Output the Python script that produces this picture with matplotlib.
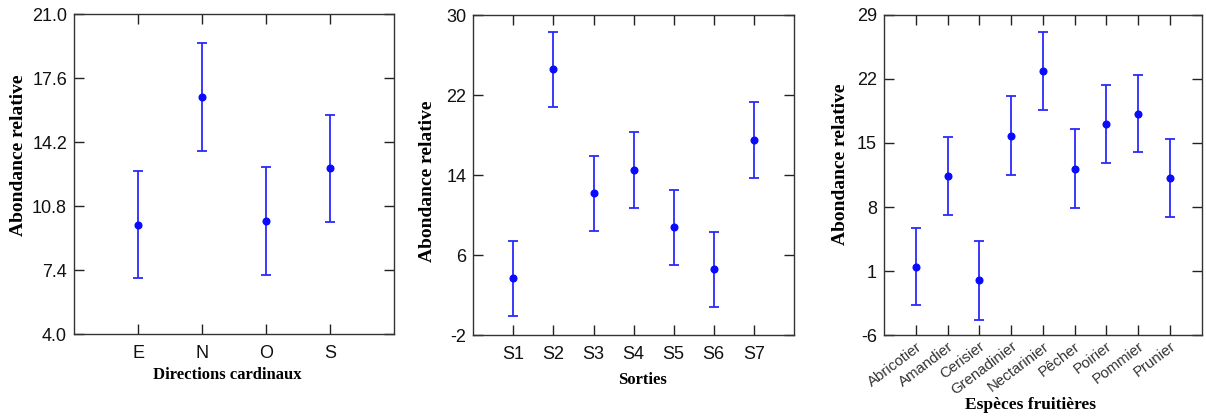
import numpy as np
import matplotlib.pyplot as plt

directions = ["E", "N", "O", "S"]
dir_mean = [9.8, 16.6, 10.0, 12.8]
dir_err = [2.85, 2.85, 2.85, 2.85]

sorties = ["S1", "S2", "S3", "S4", "S5", "S6", "S7"]
sort_mean = [3.7, 24.6, 12.2, 14.5, 8.8, 4.6, 17.5]
sort_err = [3.75, 3.75, 3.75, 3.78, 3.75, 3.75, 3.8]

especes = ["Abricotier", "Amandier", "Cerisier", "Grenadinier", "Nectarinier",
           "Pêcher", "Poirier", "Pommier", "Prunier"]
esp_mean = [1.5, 11.4, 0.0, 15.8, 22.85, 12.2, 17.05, 18.2, 11.2]
esp_err = [4.2, 4.3, 4.3, 4.33, 4.26, 4.28, 4.28, 4.22, 4.24]

# (categories, means, errors, yticks, fmt, xlabel, axes rect, rotation,
#  xlabel coords, ylabel coords)
panels = [
    (directions, dir_mean, dir_err, [4.0, 7.4, 10.8, 14.2, 17.6, 21.0], "%.1f",
     "Directions cardinaux", [0.0614, 0.1971, 0.2653, 0.769], 0,
     (0.48, -0.127), (-0.175, 0.559)),
    (sorties, sort_mean, sort_err, [-2, 6, 14, 22, 30], "%d",
     "Sorties", [0.3925, 0.1947, 0.2657, 0.769], 0,
     (0.527, -0.14), (-0.142, 0.481)),
    (especes, esp_mean, esp_err, [-6, 1, 8, 15, 22, 29], "%d",
     "Espèces fruitières", [0.733, 0.194, 0.2634, 0.7707], 37,
     (0.46, -0.217), (-0.138, 0.534)),
]

fig = plt.figure(figsize=(12.06, 4.16), dpi=100)

for cats, mean, err, yt, fmt, xlabel, pos, rot, xlc, ylc in panels:
    ax = fig.add_axes(pos)
    x = np.arange(1, len(cats) + 1)
    ax.errorbar(x, mean, yerr=err, fmt='o', color='#0a0aff', ecolor='#2a2aff',
                elinewidth=1.3, capsize=3.5, capthick=1.3, markersize=4.8)
    ax.set_xlim(0, len(cats) + 1)
    ax.set_ylim(yt[0], yt[-1])
    ax.set_yticks(yt)
    ax.set_yticklabels([fmt % v for v in yt], family='Liberation Sans',
                       fontsize=13, color='#111111')
    ax.set_xticks(x)
    ax.tick_params(direction='in', length=7, width=1, top=True, right=True,
                   color='#222222')
    if rot:
        ax.set_xticklabels(cats, rotation=rot, ha='right', rotation_mode='anchor',
                           family='Liberation Sans', fontsize=10.8,
                           color='#333333')
        ax.tick_params(axis='x', pad=3)
    else:
        ax.set_xticklabels(cats, family='Liberation Sans', fontsize=13,
                           color='#111111')
        ax.tick_params(axis='x', pad=8)
    ax.tick_params(axis='y', pad=5)
    for s in ax.spines.values():
        s.set_color('#333333')
        s.set_linewidth(1.0)
    ax.set_xlabel(xlabel, family='Liberation Serif', fontweight='bold',
                  fontsize=12.5 if rot else 12)
    ax.set_ylabel("Abondance relative", family='Liberation Serif',
                  fontweight='bold', fontsize=14)
    ax.xaxis.set_label_coords(*xlc)
    ax.yaxis.set_label_coords(*ylc)
    ax.xaxis.label.set_va('center')
    ax.yaxis.label.set_va('center')

fig.savefig("out.png", dpi=100)
